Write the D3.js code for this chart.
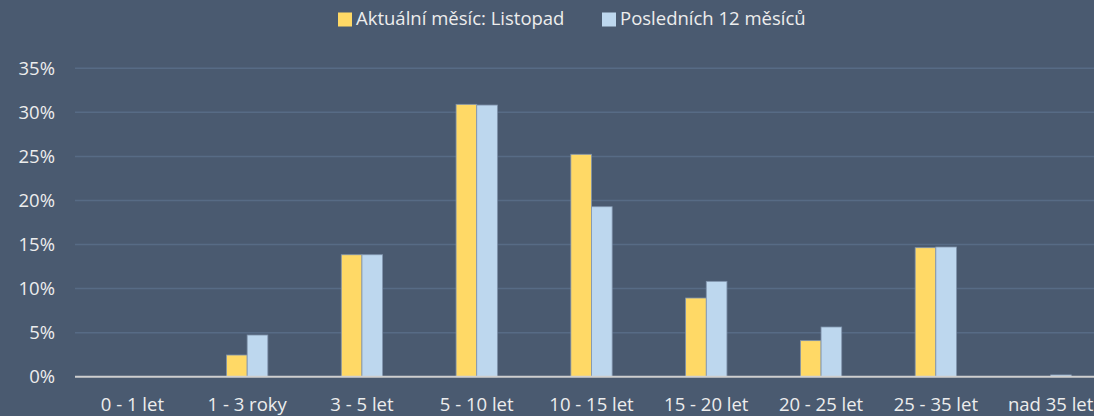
<!DOCTYPE html>
<html>
<head>
<meta charset="utf-8">
<script src="https://cdn.jsdelivr.net/npm/d3@7"></script>
<style>
    html, body { margin: 0; padding: 0; background: #4a5a70; }
    #chart { width: 1094px; height: 416px; overflow: hidden; }
    text { font-family: "Open Sans", Lato, sans-serif; fill: #ededed; }
</style>
</head>
<body>
<div id="chart"></div>
<script>
const categories = ['0 - 1 let', '1 - 3 roky', '3 - 5 let', '5 - 10 let', '10 - 15 let',
    '15 - 20 let', '20 - 25 let', '25 - 35 let', 'nad 35 let'];
const seriesNames = ['Aktuální měsíc: Listopad', 'Posledních 12 měsíců'];
const currentMonth = [0, 2.46, 13.84, 30.91, 25.24, 8.93, 4.09, 14.64, 0];
const last12Months = [0, 4.73, 13.84, 30.83, 19.29, 10.82, 5.64, 14.72, 0.2];
const yTicks = [0, 5, 10, 15, 20, 25, 30, 35];
const colors = ['#ffd966', '#bdd7ee'];

function createChart() {
    const width = 1094, height = 416;
    const margin = { top: 68.3, left: 75, bottom: 39.3 };
    const plotRight = 1108;
    const fontSize = '18.5px';

    const svg = d3.select('#chart').append('svg')
        .attr('width', width)
        .attr('height', height);

    svg.append('rect')
        .attr('width', width)
        .attr('height', height)
        .attr('fill', '#4a5a70');

    const x = d3.scaleBand()
        .domain(categories)
        .range([margin.left, plotRight])
        .paddingInner(0.64)
        .paddingOuter(0.32);

    const x1 = d3.scaleBand()
        .domain(seriesNames)
        .range([0, x.bandwidth()]);

    const y = d3.scaleLinear()
        .domain([0, 35])
        .range([height - margin.bottom, margin.top]);

    // Gridlines
    svg.append('g')
        .selectAll('line')
        .data(yTicks.filter(d => d > 0))
        .join('line')
        .attr('x1', margin.left)
        .attr('x2', plotRight)
        .attr('y1', d => y(d))
        .attr('y2', d => y(d))
        .attr('stroke', '#576b85')
        .attr('stroke-width', 1.5);

    // Y axis labels
    const yAxis = svg.append('g')
        .attr('transform', `translate(${margin.left - 20},0)`)
        .call(d3.axisLeft(y).tickValues(yTicks).tickFormat(d => d + '%').tickSize(0).tickPadding(0));
    yAxis.select('.domain').remove();
    yAxis.selectAll('text')
        .style('font-size', fontSize)
        .attr('fill', '#ededed');

    // Bars
    const data = categories.map((c, i) => ({
        category: c,
        values: [
            { key: seriesNames[0], value: currentMonth[i] },
            { key: seriesNames[1], value: last12Months[i] }
        ]
    }));

    const groups = svg.append('g')
        .selectAll('g')
        .data(data)
        .join('g')
        .attr('transform', d => `translate(${x(d.category)},0)`);

    groups.selectAll('rect')
        .data(d => d.values)
        .join('rect')
        .attr('x', d => x1(d.key))
        .attr('y', d => y(d.value))
        .attr('width', x1.bandwidth())
        .attr('height', d => y(0) - y(d.value))
        .attr('fill', (d, i) => colors[i])
        .attr('stroke', '#8194ad')
        .attr('stroke-width', d => d.value > 0 ? 0.8 : 0);

    // Zero line
    svg.append('line')
        .attr('x1', margin.left)
        .attr('x2', plotRight)
        .attr('y1', y(0))
        .attr('y2', y(0))
        .attr('stroke', '#cfcfcf')
        .attr('stroke-width', 2);

    // X axis labels
    const xAxis = svg.append('g')
        .attr('transform', `translate(0,${y(0) + 21})`)
        .call(d3.axisBottom(x).tickSize(0).tickPadding(0));
    xAxis.select('.domain').remove();
    xAxis.selectAll('text')
        .style('font-size', fontSize)
        .attr('fill', '#ededed');

    // Legend
    const legendX = [338, 602];
    const legend = svg.append('g')
        .selectAll('g')
        .data(seriesNames)
        .join('g')
        .attr('transform', (d, i) => `translate(${legendX[i]},12)`);

    legend.append('rect')
        .attr('y', 0.5)
        .attr('width', 14)
        .attr('height', 14)
        .attr('fill', (d, i) => colors[i]);

    legend.append('text')
        .attr('x', 18)
        .attr('y', 6.5)
        .attr('dy', '0.35em')
        .style('font-size', fontSize)
        .text(d => d);
}

createChart();
</script>
</body>
</html>
